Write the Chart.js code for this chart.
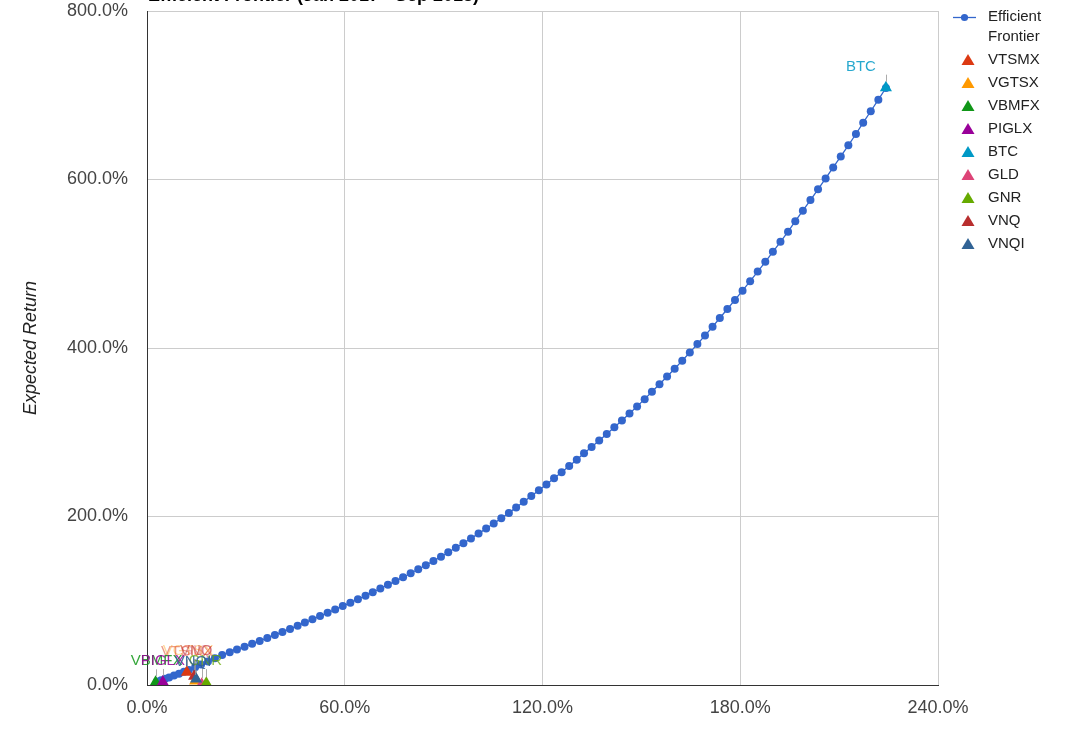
<!DOCTYPE html>
<html>
<head>
<meta charset="utf-8">
<script src="https://cdn.jsdelivr.net/npm/chart.js@4.4.0/dist/chart.umd.min.js"></script>
<style>
html,body{margin:0;padding:0;background:#fff;overflow:hidden}
#wrap{position:absolute;left:0;top:0;width:1080px;height:735px}
</style>
</head>
<body>
<div id="wrap"><canvas id="c" width="1080" height="735"></canvas></div>
<script>
// values (percent)
var chartTitle = 'Efficient Frontier (Jan 2017 - Sep 2018)';
var yAxisTitle = 'Expected Return';
var frontierLabel = ['Efficient', 'Frontier'];

var frontierRisk = [
  3.0, 4.3, 5.5, 6.7, 8.2, 9.7, 11.2, 12.7, 14.6, 16.4, 18.5, 20.6,
  22.8, 25.1, 27.3, 29.6, 31.9, 34.2, 36.5, 38.8, 41.1, 43.4,
  45.7, 47.9, 50.2, 52.5, 54.8, 57.1, 59.4, 61.7, 64.0, 66.3,
  68.5, 70.8, 73.1, 75.4, 77.7, 80.0, 82.3, 84.6, 86.9, 89.2,
  91.4, 93.7, 96.0, 98.3, 100.6, 102.9, 105.2, 107.5, 109.8, 112.0,
  114.3, 116.6, 118.9, 121.2, 123.5, 125.8, 128.1, 130.4, 132.6, 134.9,
  137.2, 139.5, 141.8, 144.1, 146.4, 148.7, 151.0, 153.2, 155.5, 157.8,
  160.1, 162.4, 164.7, 167.0, 169.3, 171.6, 173.8, 176.1, 178.4, 180.7,
  183.0, 185.3, 187.6, 189.9, 192.2, 194.5, 196.7, 199.0, 201.3, 203.6,
  205.9, 208.2, 210.5, 212.8, 215.1, 217.3, 219.6, 221.9, 224.2
];
var frontierReturn = [
  4.2, 5.7, 7.4, 9.0, 11.2, 13.3, 15.6, 17.8, 21.0, 24.3, 28.0, 31.8,
  35.6, 38.9, 42.2, 45.5, 48.9, 52.3, 55.9, 59.4, 63.0, 66.6,
  70.4, 74.1, 77.9, 81.8, 85.7, 89.6, 93.7, 97.7, 101.8, 106.0,
  110.2, 114.5, 118.9, 123.3, 127.9, 132.6, 137.4, 142.2, 147.2, 152.3,
  157.5, 162.9, 168.3, 174.0, 179.7, 185.7, 191.7, 197.9, 204.3, 210.8,
  217.4, 224.2, 231.1, 238.1, 245.3, 252.6, 260.0, 267.4, 275.0, 282.6,
  290.2, 298.0, 305.9, 314.0, 322.3, 330.7, 339.3, 348.0, 356.9, 366.1,
  375.4, 385.0, 394.7, 404.6, 414.8, 425.1, 435.6, 446.3, 457.1, 468.1,
  479.3, 490.7, 502.3, 514.1, 526.0, 538.1, 550.5, 563.0, 575.6, 588.4,
  601.3, 614.3, 627.4, 640.6, 654.0, 667.4, 681.0, 694.7, 708.6
];

var assetNames  = ['VTSMX', 'VGTSX', 'VBMFX', 'PIGLX', 'BTC', 'GLD', 'GNR', 'VNQ', 'VNQI'];
var assetRisk   = [12.1, 14.6, 2.6, 4.8, 224.2, 16.6, 18.0, 14.3, 14.9];
var assetReturn = [15.0, 4.7, 3.2, 3.6, 709.0, 1.0, 2.2, 10.5, 7.0];

var xTicks = [0, 60, 120, 180, 240];
var yTicks = [0, 200, 400, 600, 800];

// styles
var frontierColor = '#3366cc';
var assetColors = ['#dc3912', '#ff9900', '#109618', '#990099', '#0099c6', '#dd4477', '#66aa00', '#b82e2e', '#316395'];
// annotation offsets in px (dx, dy) from the marker, opacity, and the order they are painted in
var labelOffsets = [[0,-21],[-7,-30],[1,-21],[0,-21],[-25,-21],[-5,-33],[-1,-22],[2,-25],[-3,-17]];
var labelAlpha = [0.5, 0.4, 0.85, 0.85, 0.85, 0.4, 0.75, 0.5, 0.9];
var labelPaintOrder = [1, 5, 0, 7, 2, 3, 6, 8, 4];
var FONT = 'Arial, "Liberation Sans", sans-serif';

function pct(v) { return v.toFixed(1) + '%'; }

var datasets = [{
  label: frontierLabel.join(' '),
  data: frontierRisk.map(function(x, i) { return {x: x, y: frontierReturn[i]}; }),
  showLine: true,
  borderColor: frontierColor,
  borderWidth: 1.3,
  backgroundColor: frontierColor,
  pointRadius: 4,
  pointBorderWidth: 0,
  order: 20
}];
assetNames.forEach(function(n, i) {
  datasets.push({
    label: n,
    data: [{x: assetRisk[i], y: assetReturn[i]}],
    pointStyle: 'triangle',
    pointRadius: 7,
    pointBorderWidth: 0,
    backgroundColor: assetColors[i],
    borderColor: assetColors[i],
    order: 10 - i
  });
});

var titlePlugin = {
  id: 'topTitle',
  afterDraw: function(chart) {
    var ctx = chart.ctx;
    ctx.save();
    ctx.font = 'bold 18px ' + FONT;
    ctx.fillStyle = '#000';
    ctx.textAlign = 'left';
    ctx.textBaseline = 'alphabetic';
    ctx.fillText(chartTitle, 148, 1);
    ctx.restore();
  }
};

var annotPlugin = {
  id: 'annot',
  afterDatasetsDraw: function(chart) {
    var ctx = chart.ctx;
    ctx.save();
    ctx.font = '15px ' + FONT;
    ctx.textAlign = 'center';
    ctx.textBaseline = 'middle';
    // stems first
    ctx.strokeStyle = 'rgba(150,150,150,0.8)';
    ctx.lineWidth = 1;
    labelPaintOrder.forEach(function(i) {
      var el = chart.getDatasetMeta(i + 1).data[0];
      var off = labelOffsets[i];
      ctx.beginPath();
      ctx.moveTo(Math.round(el.x) + 0.5, el.y - 6);
      ctx.lineTo(Math.round(el.x) + 0.5, el.y + off[1] + 8);
      ctx.stroke();
    });
    labelPaintOrder.forEach(function(i) {
      var el = chart.getDatasetMeta(i + 1).data[0];
      var off = labelOffsets[i];
      ctx.globalAlpha = labelAlpha[i];
      ctx.fillStyle = assetColors[i];
      ctx.fillText(assetNames[i], el.x + off[0], el.y + off[1]);
    });
    ctx.restore();
  }
};

var legendPlugin = {
  id: 'sideLegend',
  afterDraw: function(chart) {
    var ctx = chart.ctx;
    ctx.save();
    ctx.font = '15px ' + FONT;
    ctx.textBaseline = 'middle';
    ctx.textAlign = 'left';
    // frontier entry
    ctx.strokeStyle = frontierColor;
    ctx.lineWidth = 1.3;
    ctx.beginPath();
    ctx.moveTo(953, 17.5);
    ctx.lineTo(976, 17.5);
    ctx.stroke();
    ctx.fillStyle = frontierColor;
    ctx.beginPath();
    ctx.arc(964.5, 17.5, 3.6, 0, Math.PI * 2);
    ctx.fill();
    ctx.fillStyle = '#222';
    ctx.fillText(frontierLabel[0], 988, 17);
    ctx.fillText(frontierLabel[1], 988, 37);
    assetNames.forEach(function(n, i) {
      var y = 60 + i * 23;
      ctx.fillStyle = assetColors[i];
      ctx.beginPath();
      ctx.moveTo(968, y - 6);
      ctx.lineTo(974.5, y + 5);
      ctx.lineTo(961.5, y + 5);
      ctx.closePath();
      ctx.fill();
      ctx.fillStyle = '#222';
      ctx.fillText(n, 988, y);
    });
    ctx.restore();
  }
};

new Chart(document.getElementById('c'), {
  type: 'scatter',
  data: {datasets: datasets},
  options: {
    responsive: false,
    animation: false,
    devicePixelRatio: 1,
    layout: {padding: {top: 11, right: 142, left: 0, bottom: 0}},
    plugins: {legend: {display: false}, tooltip: {enabled: false}},
    scales: {
      x: {
        type: 'linear', min: 0, max: 240,
        afterBuildTicks: function(s) { s.ticks = xTicks.map(function(v) { return {value: v}; }); },
        afterFit: function(s) { s.height = 50; s.paddingLeft = 0; s.paddingRight = 0; },
        ticks: {callback: pct, color: '#444', font: {family: FONT, size: 18}, padding: 12, maxRotation: 0},
        grid: {color: function(c) { return c.tick && c.tick.value === 0 ? '#333' : '#ccc'; }, drawTicks: false, lineWidth: 1},
        border: {color: '#333', width: 1}
      },
      y: {
        type: 'linear', min: 0, max: 800,
        afterBuildTicks: function(s) { s.ticks = yTicks.map(function(v) { return {value: v}; }); },
        afterFit: function(s) { s.width = 147; s.paddingTop = 0; s.paddingBottom = 0; },
        ticks: {callback: pct, color: '#444', font: {family: FONT, size: 18}, padding: 19},
        grid: {color: function(c) { return c.tick && c.tick.value === 0 ? '#333' : '#ccc'; }, drawTicks: false, lineWidth: 1},
        border: {color: '#333', width: 1},
        title: {display: true, text: yAxisTitle, color: '#222', font: {family: FONT, size: 18, style: 'italic'}, padding: {top: 20, bottom: 0}}
      }
    }
  },
  plugins: [titlePlugin, annotPlugin, legendPlugin]
});
</script>
</body>
</html>
